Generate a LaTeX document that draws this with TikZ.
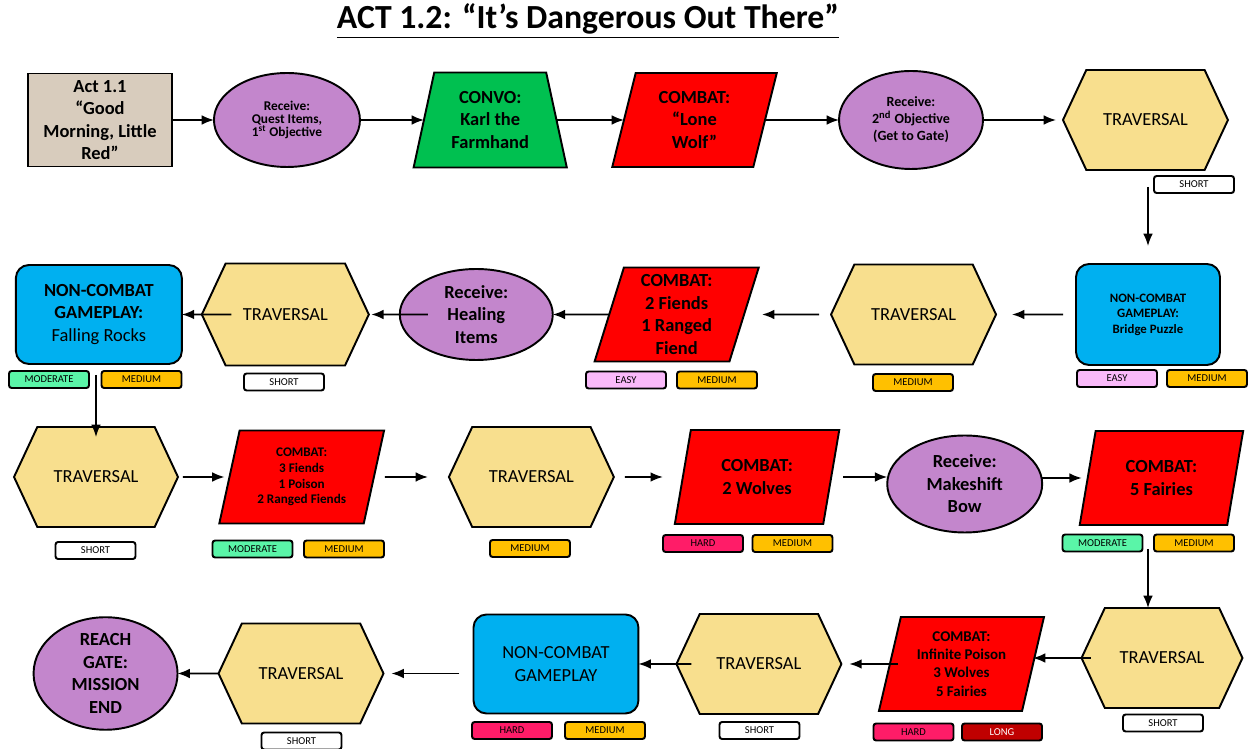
\documentclass[tikz,border=0pt]{standalone}
\usepackage{fontspec}
\setmainfont{Carlito}
\usetikzlibrary{positioning, shapes.geometric, shapes.symbols, arrows.meta}

\definecolor{actTan}{HTML}{D8CCBD}
\definecolor{recvPurple}{HTML}{C386CC}
\definecolor{convoGreen}{HTML}{00C050}
\definecolor{combatRed}{HTML}{FF0000}
\definecolor{travYellow}{HTML}{F8DF8E}
\definecolor{gameBlue}{HTML}{00B0F0}
\definecolor{tagGreen}{HTML}{5AF5A8}
\definecolor{tagPink}{HTML}{F9B9F9}
\definecolor{tagOrange}{HTML}{FFC000}
\definecolor{tagHard}{HTML}{FF1C68}
\definecolor{tagLong}{HTML}{C00000}

\tikzstyle{Base} = [draw=black, line width=1.1pt, align=center, inner sep=0pt, outer sep=0pt,
    font=\fontsize{10.5}{12.8}\selectfont]
\tikzstyle{Bold} = [font=\bfseries\fontsize{10.5}{12.8}\selectfont]
\tikzstyle{Start} = [Base, Bold, rectangle, fill=actTan]
\tikzstyle{Receive} = [Base, ellipse, fill=recvPurple]
\tikzstyle{Convo} = [Base, trapezium, trapezium left angle=76, trapezium right angle=76,
    trapezium stretches=true, fill=convoGreen]
\tikzstyle{Combat} = [Base, trapezium, trapezium left angle=76, trapezium right angle=104,
    trapezium stretches=true, fill=combatRed]
\tikzstyle{Traversal} = [Base, signal, signal to=west and east, signal pointer angle=130,
    minimum width=3.3cm, minimum height=2cm, fill=travYellow]
\tikzstyle{Gameplay} = [Base, rectangle, rounded corners=0.26cm, fill=gameBlue]
\tikzstyle{Tag} = [draw=black, line width=1.1pt, rounded corners=1.5pt, inner sep=0pt, outer sep=0pt,
    minimum width=1.6cm, minimum height=0.34cm, font=\fontsize{6}{6.5}\selectfont]
\tikzstyle{Short} = [Tag, fill=white]
\tikzstyle{Easy} = [Tag, fill=tagPink]
\tikzstyle{Moderate} = [Tag, fill=tagGreen]
\tikzstyle{Hard} = [Tag, fill=tagHard]
\tikzstyle{Medium} = [Tag, fill=tagOrange]
\tikzstyle{Long} = [Tag, fill=tagLong, text=white]
\tikzstyle{Arrow} = [line width=0.9pt, -{Latex[length=7pt, width=5.5pt]}]

\begin{document}
\begin{tikzpicture}[x=0.02cm, y=-0.02cm]
    \useasboundingbox (0,0) rectangle (1249,749);
    \node[font=\bfseries\fontsize{19.2}{22}\selectfont] (title) at (588,21)
        {\underline{ACT 1.2: “It’s Dangerous Out There”}};

    % row 1
    \node[Start, minimum width=2.88cm, minimum height=1.86cm] (1) at (100,120)
        {Act 1.1\\“Good\\Morning, Little\\Red”};
    \node[Receive, right=0.84cm of 1, minimum width=2.92cm, minimum height=1.88cm,
        font=\bfseries\fontsize{7.6}{7.4}\selectfont] (2)
        {Receive:\\Quest Items,\\1\textsuperscript{st} Objective};
    \node[Convo, Bold, right=1.28cm of 2, minimum width=3.08cm, minimum height=1.9cm] (3)
        {CONVO:\\Karl the\\Farmhand};
    \node[Combat, Bold, right=1.35cm of 3, minimum width=3.3cm, minimum height=1.88cm] (4)
        {COMBAT:\\“Lone\\Wolf”};
    \node[Receive, right=1.48cm of 4, minimum width=2.88cm, minimum height=1.96cm,
        font=\bfseries\fontsize{8}{9.6}\selectfont] (5)
        {Receive:\\2\textsuperscript{nd} Objective\\(Get to Gate)};
    \node[Traversal, right=1.6cm of 5] (6) {TRAVERSAL};

    % row 2
    \node[Gameplay, minimum width=2.88cm, minimum height=2.02cm,
        font=\bfseries\fontsize{7.3}{8.8}\selectfont] (7) at (1148,314.5)
        {NON-COMBAT\\GAMEPLAY:\\Bridge Puzzle};
    \node[Traversal, left=1.6cm of 7] (8) {TRAVERSAL};
    \node[Combat, Bold, left=1.74cm of 8, minimum width=3.3cm, minimum height=1.88cm] (9)
        {COMBAT:\\2 Fiends\\1 Ranged\\Fiend};
    \node[Receive, Bold, left=1.13cm of 9, minimum width=3.06cm, minimum height=1.82cm] (10)
        {Receive:\\Healing\\Items};
    \node[Traversal, left=0.62cm of 10, minimum width=3.34cm, minimum height=2.04cm] (11)
        {TRAVERSAL};
    \node[Gameplay, left=0.4cm of 11, minimum width=3.32cm, minimum height=1.98cm] (12)
        {\textbf{NON-COMBAT}\\\textbf{GAMEPLAY:}\\Falling Rocks};

    % row 3
    \node[Traversal, minimum width=3.28cm] (13) at (96,477) {TRAVERSAL};
    \node[Combat, right=1.03cm of 13, minimum width=3.3cm, minimum height=1.86cm,
        font=\bfseries\fontsize{7.5}{9}\selectfont] (14)
        {COMBAT:\\3 Fiends\\1 Poison\\2 Ranged Fiends};
    \node[Traversal, right=1.5cm of 14] (15) {TRAVERSAL};
    \node[Combat, Bold, right=1.38cm of 15, minimum width=3.3cm, minimum height=1.88cm] (16)
        {COMBAT:\\2 Wolves};
    \node[Receive, Bold, right=1.12cm of 16, yshift=-0.14cm, minimum width=3.1cm,
        minimum height=1.94cm] (17) {Receive:\\Makeshift\\Bow};
    \node[Combat, Bold, right=0.91cm of 17, yshift=0.12cm, minimum width=3.28cm,
        minimum height=1.88cm] (18) {COMBAT:\\5 Fairies};

    % row 4
    \node[Traversal, minimum width=3.22cm] (19) at (1162,658) {TRAVERSAL};
    \node[Combat, left=0.97cm of 19, yshift=-0.12cm, minimum width=3.32cm,
        minimum height=1.88cm, font=\bfseries\fontsize{8.5}{10.4}\selectfont] (20)
        {COMBAT:\\Infinite Poison\\3 Wolves\\5 Fairies};
    \node[Traversal, left=0.97cm of 20] (21) {TRAVERSAL};
    \node[Gameplay, left=0.76cm of 21, minimum width=3.3cm, minimum height=1.98cm] (22)
        {NON-COMBAT\\GAMEPLAY};
    \node[Traversal, left=1.8cm of 22, yshift=-0.19cm] (23) {TRAVERSAL};
    \node[Receive, Bold, left=0.82cm of 23, minimum width=2.88cm, minimum height=2.02cm] (24)
        {REACH\\GATE:\\MISSION\\END};

    % tags
    \node[Short] (6a) at (1194,184.5) {SHORT};
    \node[Easy] (7a) at (1117,378.5) {EASY};
    \node[Medium] (7b) at (1207,378.5) {MEDIUM};
    \node[Medium] (8a) at (913,382.5) {MEDIUM};
    \node[Easy] (9a) at (626,380) {EASY};
    \node[Medium] (9b) at (717,380) {MEDIUM};
    \node[Short] (11a) at (284,382) {SHORT};
    \node[Moderate] (12a) at (49,379.5) {MODERATE};
    \node[Medium] (12b) at (141.5,379.5) {MEDIUM};
    \node[Short] (13a) at (95.5,550.5) {SHORT};
    \node[Moderate] (14a) at (252.5,549) {MODERATE};
    \node[Medium] (14b) at (344,549) {MEDIUM};
    \node[Medium] (15a) at (530,548.5) {MEDIUM};
    \node[Hard] (16a) at (703,543.5) {HARD};
    \node[Medium] (16b) at (792.5,543.5) {MEDIUM};
    \node[Moderate] (18a) at (1102.5,543) {MODERATE};
    \node[Medium] (18b) at (1194,543) {MEDIUM};
    \node[Short] (19a) at (1163,723) {SHORT};
    \node[Hard] (20a) at (913.5,732) {HARD};
    \node[Long] (20b) at (1002,732) {LONG};
    \node[Short] (21a) at (759.5,730.5) {SHORT};
    \node[Hard] (22a) at (512,730.5) {HARD};
    \node[Medium] (22b) at (605,730.5) {MEDIUM};
    \node[Short] (23a) at (301.5,741) {SHORT};

    % connectors
    \draw[Arrow] (1) to (2);
    \draw[Arrow] (2) to (3);
    \draw[Arrow] (3) to (4);
    \draw[Arrow] (4) to (5);
    \draw[Arrow, shorten >=0.14cm] (5) to (6);
    \draw[Arrow, shorten <=0.34cm, shorten >=0.36cm] (7.north |- 6.south) to (7.north);
    \draw[Arrow, shorten <=0.26cm, shorten >=0.32cm] (7) to (8);
    \draw[Arrow, shorten <=0.24cm, shorten >=0.36cm] (8) to (9);
    \draw[Arrow] (9) to (10);
    \draw[Arrow, shorten <=-0.56cm, shorten >=0.05cm] (10) to (11);
    \draw[Arrow, shorten <=-0.59cm] (11) to (12);
    \draw[Arrow, shorten <=0.22cm, shorten >=-0.2cm] (13.north |- 12.south) to (13.north);
    \draw[Arrow, shorten <=0.1cm, shorten >=0.1cm] (13) to (14);
    \draw[Arrow, shorten <=0.22cm, shorten >=0.42cm] (14) to (15);
    \draw[Arrow, shorten <=0.22cm, shorten >=0.4cm] (15) to (16);
    \draw[Arrow, shorten <=0.24cm] (16.east) to (16.east -| 17.west);
    \draw[Arrow, shorten >=0.12cm] (17.east |- 18.west) to (18.west);
    \draw[Arrow, shorten <=0.48cm] ([xshift=-0.28cm]19.north |- 18.south) to ([xshift=-0.28cm]19.north);
    \draw[Arrow, shorten <=-0.18cm] (19.west) to (19.west -| 20.east);
    \draw[Arrow, shorten <=-0.16cm, shorten >=0.16cm] (20) to (21);
    \draw[Arrow, shorten <=-0.3cm] (21) to (22);
    \draw[Arrow, shorten <=0.28cm, shorten >=0.16cm] (22.west |- 23.east) to (23.east);
    \draw[Arrow] (23) to (24);
\end{tikzpicture}
\end{document}
